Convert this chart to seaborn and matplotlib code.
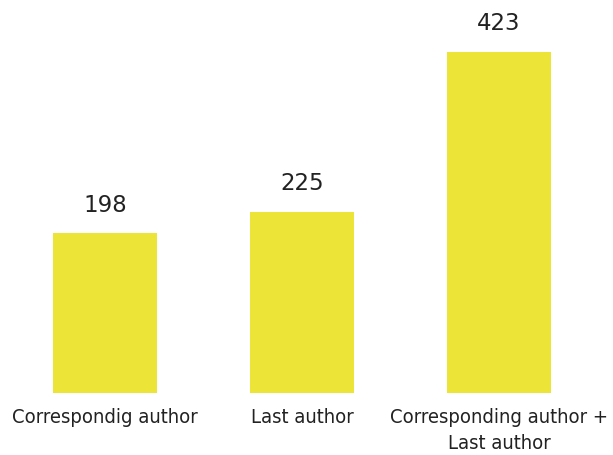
import pandas as pd
import matplotlib.pyplot as plt
import seaborn as sns

categories = ["Correspondig author", "Last author", "Corresponding author +\nLast author"]
counts = [198, 225, 423]

df = pd.DataFrame({"role": categories, "count": counts})

sns.set_style("white")
plt.rcParams["font.family"] = ["DejaVu Sans"]
plt.rcParams["font.stretch"] = "condensed"

fig = plt.figure(figsize=(6.13, 4.55), dpi=100)
ax = fig.add_axes([0, 1 - 393 / 455, 1, 393 / 455])

sns.barplot(data=df, x="role", y="count", color="#ece436", saturation=1,
            width=0.53, linewidth=0, ax=ax)

for i, v in enumerate(counts):
    ax.annotate(str(v), (i, v), xytext=(0, 12), textcoords="offset points",
                ha="center", va="bottom", fontsize=16.5, color="#222222",
                fontstretch="normal")

ax.set_xlim(-0.533, 2.579)
ax.set_ylim(0, 423 * 393 / 341)
ax.set_xlabel("")
ax.set_ylabel("")
ax.set_yticks([])
ax.tick_params(axis="x", length=0, pad=11, labelsize=14.5, labelcolor="#222222")
for lab in ax.get_xticklabels():
    lab.set_linespacing(1.45)
sns.despine(left=True, bottom=True)

fig.savefig("out.png", dpi=100)
